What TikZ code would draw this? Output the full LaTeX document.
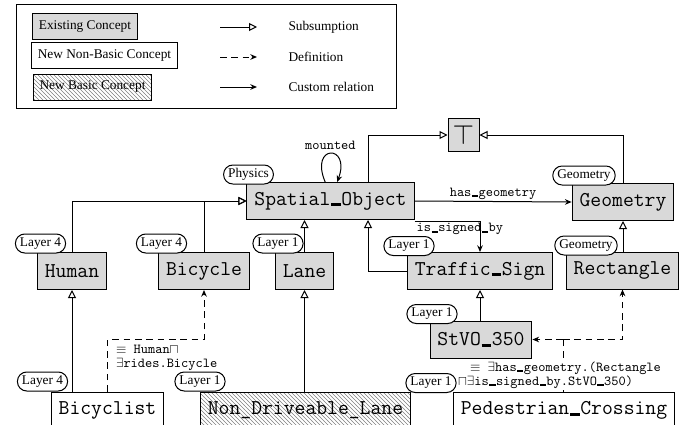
\documentclass[tikz,border=0pt]{standalone}
\usepackage{fontspec}
\setmainfont{Liberation Serif}
\usetikzlibrary{arrows.meta,patterns}

% thick underscore as in the concept names
\newcommand{\ubar}{\makebox[0.525em][c]{\rule[-0.05em]{0.45em}{0.14em}}}

\tikzset{every picture/.style={line width=0.75pt}}
\tikzset{
  concept/.style={draw, inner xsep=5.6pt, inner ysep=0pt, minimum height=27.75pt,
    font=\fontsize{15.8}{19}\selectfont\ttfamily},
  existing/.style={concept, fill=black!15},
  nonbasic/.style={concept, fill=white},
  basic/.style={concept, pattern=north west lines, pattern color=gray},
  legbox/.style={draw, inner xsep=4.8pt, inner ysep=0pt, minimum height=19.5pt,
    font=\fontsize{10}{12}\selectfont},
  tag/.style={draw, fill=white, rounded corners=7pt, inner xsep=3.4pt, inner ysep=0pt,
    minimum height=14.25pt, font=\fontsize{10}{12}\selectfont},
  rellabel/.style={inner sep=1.2pt, font=\fontsize{10.3}{10.3}\selectfont\ttfamily},
  subs/.style={-{Triangle[open,length=6pt,width=6pt]}},
  rel/.style={-{Stealth[length=5pt,width=4.2pt]}},
  defn/.style={dash pattern=on 5pt off 3.5pt, -{Stealth[length=5pt,width=4.2pt]}},
}

\begin{document}
\begin{tikzpicture}[x=0.75pt,y=0.75pt,yscale=-1,xscale=1]
\useasboundingbox (0,0) rectangle (697,425);

%Legend
\draw (16,4) rectangle (396,108);
\node [legbox, fill=black!15] (lex) at (85,26.5) {Existing Concept};
\node [legbox, fill=white] (lnb) at (104.5,55.5) {New Non-Basic Concept};
\node [legbox, pattern=north west lines, pattern color=gray] (lb) at (92.5,87) {New Basic Concept};
\coordinate (ls1) at (220,27);
\coordinate (le1) at (257,27);
\coordinate (ls2) at (220,57);
\coordinate (le2) at (257,57);
\coordinate (ls3) at (220,87);
\coordinate (le3) at (257,87);
\draw [subs] (ls1) -- (le1);
\draw [defn] (ls2) -- (le2);
\draw [rel] (ls3) -- (le3);
% Text Node
\node [anchor=west, inner sep=0pt, font=\fontsize{10}{12}\selectfont] (lsub) at (288,27) {Subsumption};
% Text Node
\node [anchor=west, inner sep=0pt, font=\fontsize{10}{12}\selectfont] (ldef) at (288,57) {Definition};
% Text Node
\node [anchor=west, inner sep=0pt, font=\fontsize{10}{12}\selectfont] (lrel) at (288,87) {Custom relation};

%Concepts
\node [existing, minimum width=23.25pt, minimum height=24.75pt, inner sep=0pt,
  font=\fontsize{20}{20}\selectfont] (top) at (463.5,135) {$\top$};
\node [existing] (so) at (330.5,201) {Spatial\ubar Object};
\node [existing] (geo) at (623,202) {Geometry};
\node [existing] (human) at (72,271) {Human};
\node [existing] (bicycle) at (204,271) {Bicycle};
\node [existing] (lane) at (304.5,271) {Lane};
\node [existing] (tsign) at (480,271) {Traffic\ubar Sign};
\node [existing] (rect) at (622.5,270.5) {Rectangle};
\node [existing] (stvo) at (481,339.5) {StVO\ubar 350};
\node [nonbasic] (bicyclist) at (107.5,410.5) {Bicyclist};
\node [basic] (ndl) at (305.5,410.5) {Non\_Driveable\_Lane};
\node [nonbasic] (pc) at (564,410.5) {Pedestrian\ubar Crossing};

\coordinate (sox) at (368,0);
\coordinate (pj) at (563,339.5);

%Subsumption
\draw [subs] (so.north -| sox) |- (top.west);
\draw [subs] (geo.north) |- (top.east);
\draw [subs] (human.north) |- (so.west);
\draw [subs] (bicycle.north) |- (so.west);
\draw [subs] (lane.north) -- (lane.north |- so.south);
\draw [subs] (tsign.west) -| (so.south -| sox);
\draw [subs] (rect.north -| geo.south) -- (geo.south);
\draw [subs] (bicyclist.north -| human.south) -- (human.south);
\draw [subs] (ndl.north -| lane.south) -- (lane.south);
\draw [subs] (stvo.north -| tsign.south) -- (tsign.south);

%Custom relations
\draw [rel] (so.east) -- (geo.west) node [midway, above, rellabel] {has\ubar geometry};
\draw [rel] ([yshift=1pt]so.south east) -| (tsign.north)
  node [pos=0, anchor=north west, rellabel] {is\ubar signed\ubar by};
\draw [rel] ([xshift=-4pt]so.north) .. controls +(-16,-38) and +(14,-38) .. ([xshift=5pt]so.north)
  node [pos=0.5, above, rellabel, inner sep=2.5pt] {mounted};

%Definitions
\draw [defn] (bicyclist.north) -- ++(0,-52) -| (bicycle.south);
\draw [dash pattern=on 5pt off 3.5pt] (pc.north -| pj) -- (pj);
\draw [defn] (pj) -- (stvo.east);
\draw [defn] (pj) -| (rect.south);

% Text Node
\node [anchor=north west, align=left, rellabel] (bdef) at (114,343)
  {$\equiv$ Human$\sqcap$\\$\exists$rides.Bicycle};
% Text Node
\node [anchor=north west, align=left, rellabel, fill=white] (pdef) at (456,360)
  {\hspace*{9pt}$\equiv$ $\exists$has\ubar geometry.(Rectangle\\$\sqcap\exists$is\ubar signed\ubar by.StVO\ubar 350)};

%Tags
\node [tag] (tso) at (248.5,174.5) {Physics};
\node [tag] (tgeo) at (584,175.5) {Geometry};
\node [tag] (thuman) at (40.5,243.5) {Layer 4};
\node [tag] (tbicycle) at (161.5,243.5) {Layer 4};
\node [tag] (tlane) at (278,243.5) {Layer 1};
\node [tag] (ttsign) at (409,246) {Layer 1};
\node [tag] (trect) at (586,245.5) {Geometry};
\node [tag] (tstvo) at (432,314) {Layer 1};
\node [tag] (tbicyclist) at (42.5,381.5) {Layer 4};
\node [tag] (tndl) at (200,381.5) {Layer 1};
\node [tag] (tpc) at (431,383) {Layer 1};

\end{tikzpicture}
\end{document}
